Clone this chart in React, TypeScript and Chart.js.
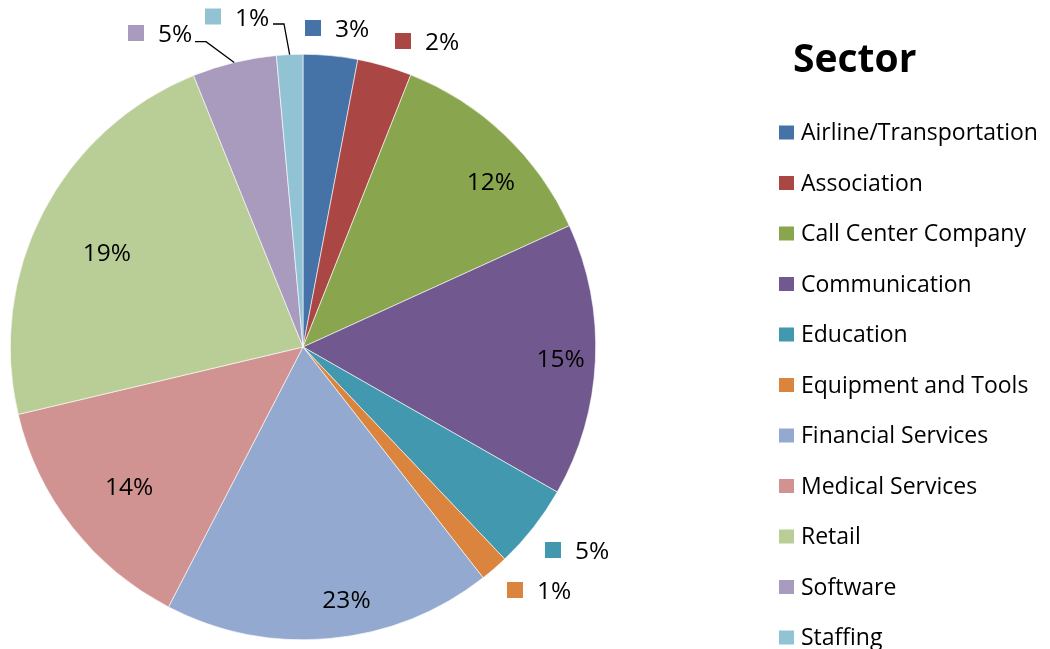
import React, { useEffect, useRef } from "react";
import { Chart, registerables } from "chart.js";

Chart.register(...registerables);

// ---- data ----
const sectors: string[] = [
  "Airline/Transportation",
  "Association",
  "Call Center Company",
  "Communication",
  "Education",
  "Equipment and Tools",
  "Financial Services",
  "Medical Services",
  "Retail",
  "Software",
  "Staffing",
];
const shares: number[] = [3.0, 3.0, 12.2, 15.05, 4.65, 1.55, 18.15, 13.7, 22.6, 4.65, 1.45];
const shareLabels: string[] = ["3%", "2%", "12%", "15%", "5%", "1%", "23%", "14%", "19%", "5%", "1%"];
const sliceColors: string[] = [
  "#4572A7",
  "#AA4643",
  "#89A54E",
  "#71588F",
  "#4198AF",
  "#DB843D",
  "#93A9CF",
  "#D19392",
  "#B9CD96",
  "#A99BBD",
  "#91C3D5",
];
const legendTitle = "Sector";

const FONT = '"Open Sans", "Noto Sans", sans-serif';

// label layout (polar for inside labels, offsets from pie centre for outside ones)
const insideLayout: Record<number, { a: number; r: number }> = {
  2: { a: 48.6, r: 0.856 },
  3: { a: 92.4, r: 0.881 },
  6: { a: 170.2, r: 0.873 },
  7: { a: 231.4, r: 0.76 },
  8: { a: 295.8, r: 0.744 },
};
const outsideLayout: Record<
  number,
  { dx: number; dy: number; leader?: { x0: number; x1: number; y: number } }
> = {
  0: { dx: 10, dy: -319 },
  1: { dx: 100, dy: -306 },
  4: { dx: 250, dy: 203 },
  5: { dx: 212, dy: 243 },
  9: { dx: -167, dy: -314, leader: { x0: -108, x1: -97, y: -305.3 } },
  10: { dx: -90, dy: -330.5, leader: { x0: -30, x1: -19, y: -323 } },
};

const labelPlugin = {
  id: "pieLabels",
  afterDraw(chart: any) {
    const ctx: CanvasRenderingContext2D = chart.ctx;
    const meta = chart.getDatasetMeta(0);
    if (!meta || !meta.data.length) return;
    const first = meta.data[0].getProps(["x", "y", "outerRadius"], true);
    const cx = first.x;
    const cy = first.y;
    const R = first.outerRadius;
    ctx.save();
    ctx.textBaseline = "alphabetic";
    ctx.font = `24.5px ${FONT}`;
    meta.data.forEach((arc: any, i: number) => {
      const p = arc.getProps(["startAngle", "endAngle"], true);
      const inside = insideLayout[i];
      const outside = outsideLayout[i];
      if (inside) {
        const ang = (inside.a * Math.PI) / 180 - Math.PI / 2;
        const x = cx + inside.r * R * Math.cos(ang);
        const y = cy + inside.r * R * Math.sin(ang);
        ctx.fillStyle = "#000";
        ctx.textAlign = "center";
        ctx.fillText(shareLabels[i], x, y + 8.75);
      } else if (outside) {
        const sx = cx + outside.dx;
        const sy = cy + outside.dy;
        ctx.fillStyle = sliceColors[i];
        ctx.fillRect(sx - 8, sy - 8, 16, 16);
        ctx.fillStyle = "#000";
        ctx.textAlign = "left";
        ctx.fillText(shareLabels[i], sx + 22, sy + 9);
        if (outside.leader) {
          const mid = (p.startAngle + p.endAngle) / 2;
          const ex = cx + R * Math.cos(mid);
          const ey = cy + R * Math.sin(mid);
          ctx.beginPath();
          ctx.moveTo(cx + outside.leader.x0, cy + outside.leader.y);
          ctx.lineTo(cx + outside.leader.x1, cy + outside.leader.y);
          ctx.lineTo(ex, ey);
          ctx.strokeStyle = "#000";
          ctx.lineWidth = 1.3;
          ctx.stroke();
        }
      }
    });

    // legend
    ctx.fillStyle = "#000";
    ctx.textAlign = "left";
    ctx.font = `bold 39px ${FONT}`;
    ctx.fillText(legendTitle, 793, 72);
    ctx.font = `23px ${FONT}`;
    sectors.forEach((name, i) => {
      const base = 140 + i * 50.5;
      ctx.fillStyle = sliceColors[i];
      ctx.fillRect(779, base - 14.5, 15, 14);
      ctx.fillStyle = "#000";
      ctx.fillText(name, 801, base);
    });
    ctx.restore();
  },
};

export default function App() {
  const ref = useRef<HTMLCanvasElement>(null);
  useEffect(() => {
    document.body.style.margin = "0";
    const chart = new Chart(ref.current as HTMLCanvasElement, {
      type: "pie",
      data: {
        labels: sectors,
        datasets: [
          {
            data: shares,
            backgroundColor: sliceColors,
            borderColor: "#ffffff",
            borderWidth: 0.6,
          },
        ],
      },
      options: {
        responsive: false,
        animation: false,
        layout: { padding: { left: 10, top: 54, right: 454, bottom: 9 } },
        plugins: {
          legend: { display: false },
          tooltip: { enabled: false },
        },
      },
      plugins: [labelPlugin],
    });
    return () => chart.destroy();
  }, []);
  return (
    <div style={{ position: "absolute", left: 0, top: 0, width: 1050, height: 649, background: "#fff" }}>
      <canvas ref={ref} width={1050} height={649} style={{ width: 1050, height: 649, display: "block" }} />
    </div>
  );
}
